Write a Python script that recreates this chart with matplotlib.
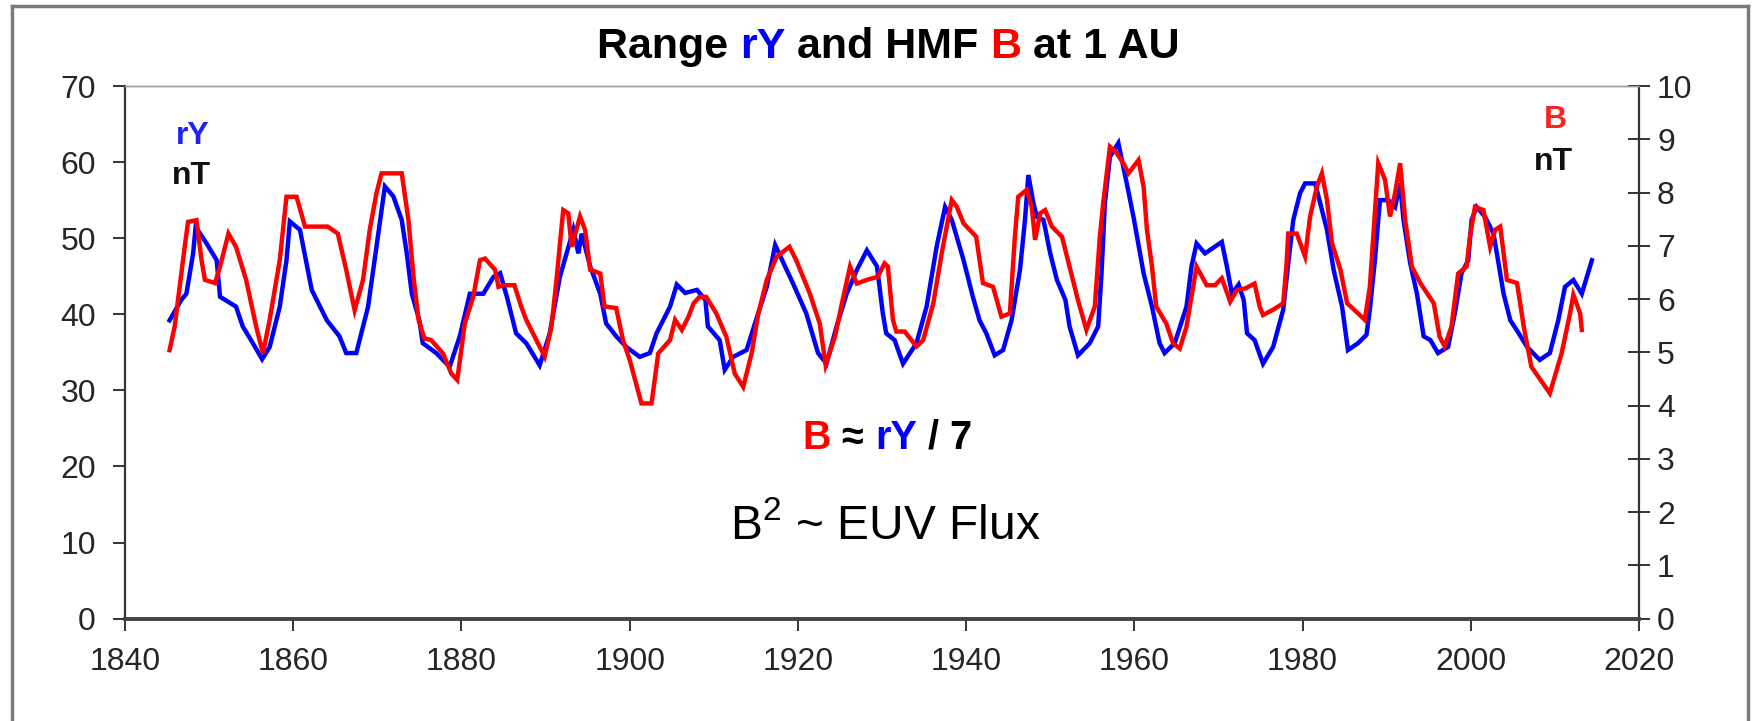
import matplotlib
matplotlib.use("Agg")
import matplotlib.pyplot as plt
from matplotlib.lines import Line2D

plt.rcParams['font.family'] = ['Liberation Sans', 'DejaVu Sans']
plt.rcParams['mathtext.fontset'] = 'custom'
plt.rcParams['mathtext.rm'] = 'Liberation Sans'
plt.rcParams['mathtext.default'] = 'regular'

# ---- data ----
ry_years = [1845.3, 1846.7, 1847.3, 1848.1, 1848.4, 1849.7, 1850.9, 1851.3, 1853.2, 1854.0,
            1855.2, 1856.3, 1857.2, 1858.4, 1859.2, 1859.6, 1860.8, 1862.2, 1864.0, 1865.5,
            1866.3, 1867.5, 1868.9, 1869.9, 1870.9, 1871.9, 1872.9, 1873.5, 1874.1, 1875.0,
            1875.4, 1877.0, 1878.6, 1879.8, 1881.0, 1882.6, 1883.8, 1884.6, 1885.4, 1886.5,
            1887.7, 1889.3, 1890.5, 1891.7, 1892.5, 1893.3, 1893.9, 1894.3, 1895.3, 1896.5,
            1897.2, 1898.4, 1899.6, 1901.2, 1902.4, 1903.2, 1904.8, 1905.6, 1906.6, 1908.0,
            1909.0, 1909.3, 1910.7, 1911.3, 1912.3, 1913.9, 1914.9, 1916.3, 1917.3, 1918.3,
            1919.4, 1921.0, 1922.4, 1923.4, 1924.6, 1925.8, 1927.0, 1928.2, 1929.4, 1930.1,
            1930.5, 1931.5, 1932.5, 1934.1, 1935.3, 1936.5, 1937.5, 1938.3, 1939.7, 1940.8,
            1941.6, 1942.4, 1943.4, 1944.4, 1945.4, 1946.4, 1947.0, 1947.4, 1948.0, 1948.4,
            1949.2, 1950.0, 1950.8, 1951.8, 1952.3, 1953.3, 1954.7, 1955.7, 1956.1, 1956.5,
            1957.1, 1958.1, 1959.1, 1959.9, 1961.1, 1962.1, 1963.0, 1963.6, 1964.8, 1966.2,
            1966.8, 1967.4, 1968.4, 1969.6, 1970.4, 1971.0, 1971.6, 1972.4, 1973.0, 1973.4,
            1974.3, 1975.3, 1976.5, 1977.7, 1978.3, 1978.9, 1979.7, 1980.3, 1981.5, 1982.1,
            1982.9, 1983.7, 1984.7, 1985.4, 1986.6, 1987.6, 1988.0, 1988.6, 1989.2, 1990.2,
            1991.0, 1991.6, 1992.0, 1992.8, 1993.6, 1994.4, 1995.2, 1996.1, 1997.3, 1998.1,
            1998.9, 1999.7, 2000.1, 2000.7, 2001.7, 2002.7, 2003.3, 2003.9, 2004.7, 2005.7,
            2006.7, 2008.2, 2009.4, 2010.4, 2011.2, 2012.2, 2013.2, 2013.8, 2014.4]
ry_values = [39.2, 41.9, 42.7, 48.0, 51.5, 49.3, 47.1, 42.3, 41.0, 38.4,
             36.2, 34.1, 35.7, 41.0, 47.1, 52.2, 51.1, 43.2, 39.2, 37.1,
             34.9, 34.9, 41.0, 48.9, 56.8, 55.5, 52.4, 48.0, 42.7, 39.2,
             36.2, 34.9, 33.1, 37.1, 42.7, 42.7, 44.9, 45.4, 42.3, 37.5,
             36.2, 33.3, 37.5, 44.9, 48.0, 51.1, 48.0, 50.6, 46.3, 42.7,
             38.8, 37.1, 35.7, 34.4, 34.9, 37.5, 41.0, 43.9, 42.8, 43.2,
             41.9, 38.4, 36.6, 32.7, 34.4, 35.3, 38.8, 43.6, 49.1, 46.7,
             44.1, 40.1, 34.9, 33.5, 38.4, 42.7, 45.8, 48.4, 46.3, 40.1,
             37.5, 36.6, 33.5, 36.2, 41.0, 48.9, 54.1, 52.4, 47.1, 42.3,
             39.2, 37.5, 34.6, 35.3, 39.2, 45.8, 52.4, 58.3, 54.6, 52.8,
             52.4, 48.0, 44.5, 41.9, 38.4, 34.6, 36.2, 38.4, 45.4, 54.6,
             60.7, 62.5, 57.2, 52.8, 45.4, 41.0, 36.2, 34.9, 36.2, 41.0,
             46.3, 49.3, 48.0, 48.9, 49.5, 46.3, 42.7, 43.9, 41.9, 37.5,
             36.6, 33.5, 35.7, 40.6, 46.7, 52.4, 55.9, 57.2, 57.2, 54.6,
             51.1, 45.8, 41.0, 35.3, 36.2, 37.3, 40.6, 47.1, 55.0, 55.0,
             54.1, 57.2, 52.4, 46.7, 42.7, 37.1, 36.6, 34.9, 35.7, 40.1,
             45.4, 47.1, 52.4, 54.1, 52.8, 50.6, 46.7, 42.7, 39.2, 37.5,
             35.7, 34.0, 34.9, 39.2, 43.6, 44.5, 42.7, 44.9, 47.1]

b_years = [1845.3, 1845.9, 1846.5, 1847.1, 1847.5, 1848.5, 1849.1, 1849.5, 1850.7, 1851.3,
           1852.3, 1853.2, 1854.4, 1855.6, 1856.4, 1857.2, 1858.4, 1859.2, 1860.4, 1861.4,
           1864.1, 1865.3, 1866.3, 1867.3, 1868.3, 1869.1, 1869.9, 1870.5, 1872.9, 1873.3,
           1873.7, 1874.3, 1874.9, 1875.6, 1876.4, 1877.8, 1878.8, 1879.5, 1880.4, 1881.4,
           1882.2, 1882.8, 1884.0, 1884.4, 1885.0, 1886.3, 1887.1, 1887.7, 1888.9, 1889.9,
           1890.7, 1891.3, 1892.1, 1892.7, 1893.1, 1894.1, 1894.7, 1895.3, 1896.5, 1897.0,
           1898.4, 1899.2, 1900.0, 1901.4, 1902.6, 1903.4, 1904.8, 1905.4, 1906.2, 1907.0,
           1907.6, 1908.3, 1909.1, 1910.3, 1911.5, 1912.5, 1913.5, 1914.5, 1915.3, 1916.3,
           1917.5, 1919.0, 1919.8, 1921.4, 1922.6, 1923.3, 1924.4, 1925.4, 1926.2, 1927.0,
           1928.2, 1929.5, 1930.3, 1930.7, 1931.3, 1931.7, 1932.7, 1934.1, 1934.9, 1936.1,
           1937.1, 1938.3, 1938.9, 1939.7, 1941.2, 1942.0, 1943.2, 1944.2, 1945.2, 1945.8,
           1946.2, 1947.2, 1947.8, 1948.2, 1948.8, 1949.4, 1950.2, 1951.4, 1952.3, 1953.3,
           1954.3, 1955.3, 1955.9, 1956.3, 1957.1, 1957.9, 1958.7, 1959.3, 1960.5, 1961.1,
           1961.5, 1962.1, 1962.6, 1963.8, 1964.6, 1965.4, 1966.2, 1966.8, 1967.4, 1968.6,
           1969.6, 1970.4, 1971.4, 1972.2, 1973.2, 1974.3, 1974.9, 1975.3, 1976.5, 1977.7,
           1978.1, 1978.3, 1979.3, 1980.3, 1980.9, 1981.7, 1982.3, 1982.9, 1983.5, 1984.5,
           1985.3, 1986.2, 1987.4, 1988.0, 1988.4, 1989.0, 1989.8, 1990.4, 1991.0, 1991.6,
           1992.2, 1993.0, 1994.0, 1995.6, 1996.3, 1996.9, 1997.7, 1998.5, 1999.5, 1999.9,
           2000.5, 2001.5, 2002.3, 2002.9, 2003.5, 2004.3, 2005.5, 2006.3, 2007.2, 2009.4,
           2010.8, 2011.8, 2012.2, 2013.0, 2013.2]
b_values = [5.04, 5.48, 6.23, 6.98, 7.45, 7.48, 6.73, 6.36, 6.30, 6.61,
            7.23, 6.98, 6.36, 5.48, 4.98, 5.61, 6.73, 7.92, 7.92, 7.36,
            7.36, 7.23, 6.55, 5.79, 6.36, 7.30, 7.99, 8.36, 8.36, 7.92,
            7.48, 6.42, 5.61, 5.26, 5.23, 4.98, 4.60, 4.48, 5.54, 6.04,
            6.73, 6.76, 6.55, 6.23, 6.26, 6.26, 5.86, 5.61, 5.23, 4.92,
            5.48, 6.36, 7.67, 7.61, 6.98, 7.55, 7.30, 6.55, 6.48, 5.86,
            5.83, 5.23, 4.86, 4.04, 4.04, 4.98, 5.23, 5.61, 5.42, 5.67,
            5.92, 6.04, 6.04, 5.73, 5.29, 4.60, 4.35, 4.98, 5.73, 6.36,
            6.80, 6.98, 6.73, 6.11, 5.54, 4.76, 5.29, 6.04, 6.61, 6.29,
            6.36, 6.42, 6.67, 6.61, 5.61, 5.39, 5.39, 5.11, 5.23, 5.92,
            6.86, 7.86, 7.73, 7.42, 7.17, 6.30, 6.23, 5.67, 5.73, 7.17,
            7.92, 8.05, 7.73, 7.11, 7.61, 7.67, 7.36, 7.17, 6.61, 5.98,
            5.42, 5.86, 7.17, 7.80, 8.86, 8.74, 8.55, 8.36, 8.61, 8.11,
            7.30, 6.61, 5.86, 5.54, 5.17, 5.07, 5.48, 6.04, 6.61, 6.26,
            6.26, 6.39, 5.95, 6.17, 6.20, 6.29, 5.86, 5.70, 5.80, 5.92,
            6.67, 7.23, 7.23, 6.80, 7.55, 8.11, 8.36, 7.86, 7.05, 6.55,
            5.92, 5.79, 5.61, 6.23, 7.17, 8.55, 8.24, 7.55, 7.99, 8.55,
            7.48, 6.61, 6.30, 5.92, 5.29, 5.11, 5.48, 6.48, 6.61, 7.17,
            7.73, 7.67, 6.98, 7.30, 7.36, 6.36, 6.30, 5.48, 4.73, 4.23,
            4.98, 5.73, 6.08, 5.73, 5.42]

x_ticks = [1840, 1860, 1880, 1900, 1920, 1940, 1960, 1980, 2000, 2020]
left_ticks = [0, 10, 20, 30, 40, 50, 60, 70]
right_ticks = [0, 1, 2, 3, 4, 5, 6, 7, 8, 9, 10]

W, H = 1754, 721
fig = plt.figure(figsize=(W / 100, H / 100), dpi=100)
ax1 = fig.add_axes([125 / W, 1 - 618.6 / H, (1639 - 125) / W, (618.6 - 86) / H])
ax2 = ax1.twinx()

ax1.plot(ry_years, ry_values, color='#0000FF', lw=3.2, solid_joinstyle='miter')
ax2.plot(b_years, b_values, color='#FF0000', lw=3.2, solid_joinstyle='miter')

ax1.set_xlim(1840, 2020)
ax1.set_ylim(0, 70)
ax2.set_ylim(0, 10)
ax1.set_xticks(x_ticks)
ax1.set_yticks(left_ticks)
ax2.set_yticks(right_ticks)

tick_col = '#262626'
ax1.tick_params(axis='x', direction='out', length=8.5, width=1.4, color='#333333',
                labelsize=23, labelcolor=tick_col, pad=12)
ax1.tick_params(axis='y', direction='out', length=9, width=1.4, color='#333333',
                labelsize=23, labelcolor=tick_col, pad=12)
ax2.tick_params(axis='y', direction='inout', length=16, width=1.4, color='#333333',
                labelsize=23, labelcolor=tick_col, pad=5)

for ax in (ax1, ax2):
    ax.spines['top'].set_color('#9a9a9a')
    ax.spines['top'].set_linewidth(1.0)
    ax.spines['bottom'].set_color('#444444')
    ax.spines['bottom'].set_linewidth(2.6)
    ax.spines['left'].set_color('#333333')
    ax.spines['left'].set_linewidth(1.6)
    ax.spines['right'].set_color('#333333')
    ax.spines['right'].set_linewidth(1.6)
ax1.spines['right'].set_visible(False)
ax2.spines['left'].set_visible(False)

# outer frame
frame_kw = dict(color='#7a7a7a', lw=2.5, transform=fig.transFigure)
fig.add_artist(Line2D([12 / W, 1748 / W], [1 - 6 / H, 1 - 6 / H], **frame_kw))
fig.add_artist(Line2D([12 / W, 12 / W], [0, 1 - 6 / H], **frame_kw))
fig.add_artist(Line2D([1748 / W, 1748 / W], [0, 1 - 6 / H], **frame_kw))

renderer = fig.canvas.get_renderer()


def colored_text(xc, yc, pieces, size, weight):
    full = ''.join(p for p, _ in pieces)
    probe = fig.text(0, 0, full, fontsize=size, fontweight=weight)
    total = probe.get_window_extent(renderer).width
    probe.remove()
    ref = fig.text(0, 0, 'X', fontsize=size, fontweight=weight)
    wx = ref.get_window_extent(renderer).width
    ref.remove()
    x0 = xc * W - total / 2
    prefix = ''
    for s, c in pieces:
        if prefix:
            t = fig.text(0, 0, prefix + 'X', fontsize=size, fontweight=weight)
            off = t.get_window_extent(renderer).width - wx
            t.remove()
        else:
            off = 0
        fig.text((x0 + off) / W, yc, s, color=c, fontsize=size, fontweight=weight,
                 ha='left', va='center')
        prefix += s


colored_text(888 / W, 1 - 47 / H,
             [('Range ', 'black'), ('rY', '#0000FF'), (' and HMF ', 'black'),
              ('B', '#FF0000'), (' at 1 AU', 'black')], 31, 'bold')
colored_text(887 / W, 1 - 438 / H,
             [('B', '#FF0000'), (' \u2248 ', 'black'), ('rY', '#0000FF'), (' / 7', 'black')],
             28.5, 'bold')

fig.text(885 / W, 1 - 526 / H, 'B$^{2}$ ~ EUV Flux', fontsize=34.5, color='black',
         ha='center', va='center')

fig.text(193 / W, 1 - 136 / H, 'rY', color='#2020FF', fontsize=23, fontweight='bold',
         ha='center', va='center')
fig.text(191 / W, 1 - 176 / H, 'nT', color='#111111', fontsize=23, fontweight='bold',
         ha='center', va='center')
fig.text(1555 / W, 1 - 120 / H, 'B', color='#FF2020', fontsize=23, fontweight='bold',
         ha='center', va='center')
fig.text(1553 / W, 1 - 162 / H, 'nT', color='#111111', fontsize=23, fontweight='bold',
         ha='center', va='center')

fig.savefig('out.png', dpi=100)
